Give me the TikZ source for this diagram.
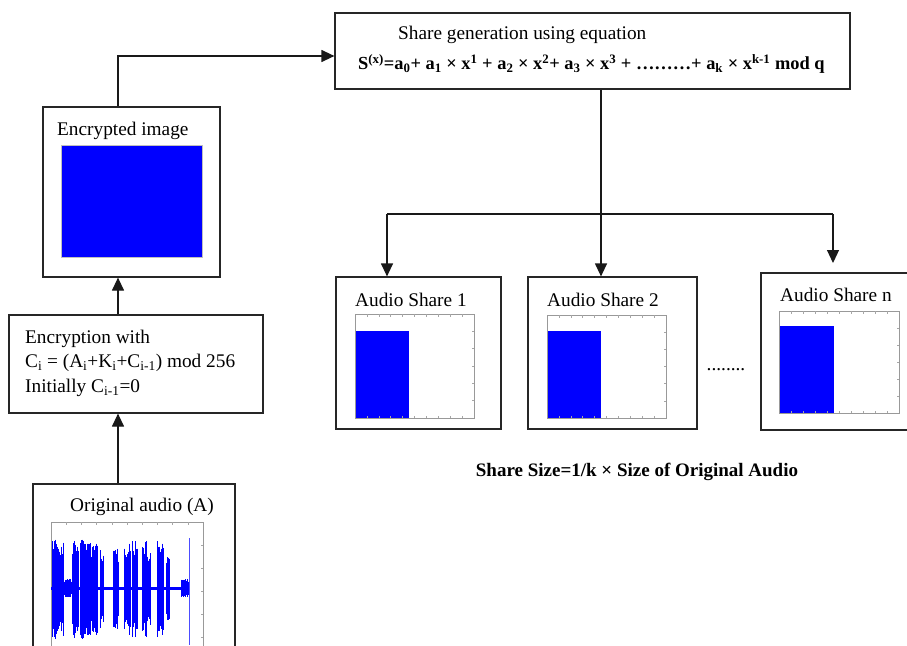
\documentclass[tikz,border=0pt]{standalone}
\usepackage{fontspec}
\setmainfont{Liberation Serif}
\usetikzlibrary{arrows.meta,calc}
\tikzset{
  box/.style={draw=black!85, line width=1.2pt, rectangle, inner sep=0pt},
  lbl/.style={inner sep=0pt, font=\fontsize{19.3}{24}\selectfont},
  bold lbl/.style={inner sep=0pt, font=\fontsize{19}{24}\selectfont\bfseries},
  conn/.style={draw=black!90, line width=1.2pt},
  arr/.style={conn, -{Triangle[length=13pt,width=12pt]}},
  framegray/.style={draw=black!40, line width=0.8pt},
  tickgray/.style={draw=black!35, line width=0.5pt},
  wave/.style={draw=blue, line width=1pt},
}
% framed plot axes with small tick marks: x1, y1, x2, y2
\newcommand\axesframe[4]{%
  \draw[framegray] (#1,#2) rectangle (#3,#4);
  \foreach \i in {1,...,9}{%
    \pgfmathsetmacro\tx{#1+(#3-#1)*\i/10}
    \draw[tickgray] (\tx,#2) -- ++(0,2.5);
    \draw[tickgray] (\tx,#4) -- ++(0,-2.5);}
  \foreach \i in {1,...,5}{%
    \pgfmathsetmacro\ty{#2+(#4-#2)*\i/6}
    \draw[tickgray] (#3,\ty) -- ++(-2.5,0);}
}
\begin{document}
\begin{tikzpicture}[x=1pt,y=-1pt]
\useasboundingbox (0,0) rectangle (907,645);
\clip (0,0) rectangle (907,645);
\fill[white] (0,0) rectangle (907,645);

% ---- boxes ----
\node[box, minimum width=515pt, minimum height=76pt] (gen) at (592.5,51) {};
\node[box, minimum width=177pt, minimum height=170pt] (encimg) at (131.5,192) {};
\node[box, minimum width=254pt, minimum height=98pt] (encr) at (136,364) {};
\node[box, minimum width=202pt, minimum height=216pt] (orig) at (134,592) {};
\node[box, minimum width=165pt, minimum height=152pt] (sh1) at (418.5,353) {};
\node[box, minimum width=169pt, minimum height=152pt] (sh2) at (612.5,353) {};
\node[box, minimum width=199pt, minimum height=157pt] (shn) at (860.5,351.5) {};

% ---- texts ----
\node[lbl, anchor=west] (gent) at (398,35) {Share generation using equation};
\node[bold lbl, anchor=west, font=\fontsize{18.4}{24}\selectfont\bfseries] (eq) at (358,64) {S\textsuperscript{(x)}=a\textsubscript{0}+ a\textsubscript{1} × x\textsuperscript{1} + a\textsubscript{2} × x\textsuperscript{2}+ a\textsubscript{3} × x\textsuperscript{3} + ………+ a\textsubscript{k} × x\textsuperscript{k-1} mod q};
\node[lbl, anchor=west] (encimgt) at (57,131) {Encrypted image};
\node[lbl, anchor=west, align=left, font=\fontsize{19.3}{24.5}\selectfont] (encrt) at (25,363)
  {Encryption with\\ C\textsubscript{i} = (A\textsubscript{i}+K\textsubscript{i}+C\textsubscript{i-1}) mod 256\\ Initially C\textsubscript{i-1}=0};
\node[lbl] (origt) at (142,507) {Original audio (A)};
\node[lbl, anchor=west] (sh1t) at (355,300) {Audio Share 1};
\node[lbl, anchor=west] (sh2t) at (547,300) {Audio Share 2};
\node[lbl, anchor=west] (shnt) at (780,295) {Audio Share n};
\node[lbl] (dots) at (726,370) {........};
\node[bold lbl] (size) at (637,472) {Share Size=1/k × Size of Original Audio};

% ---- encrypted image ----
\fill[blue] (61,145) rectangle (202,257);
\draw[black!25, line width=0.4pt] (61,145) rectangle (202,257);

% ---- share plots ----
\fill[blue] (355,331) rectangle (409,418);
\draw[blue!60, line width=0.6pt] (409,418) -- (474,418);
\axesframe{355}{314}{474}{418}
\fill[blue] (547,331) rectangle (601,418);
\draw[blue!60, line width=0.6pt] (601,418) -- (666,418);
\axesframe{547}{315}{666}{418}
\fill[blue] (779,326) rectangle (834,413);
\draw[blue!60, line width=0.6pt] (834,413) -- (899,413);
\axesframe{779}{311}{899}{413}

% ---- audio waveform ----
\axesframe{51}{522}{203}{660}
\draw[blue, line width=3pt] (51,588) -- (189,588);
\pgfmathsetseed{7}
\foreach \xa/\xb/\h in {52/63/49, 64/71/9, 72/78/48, 80/86/49, 87/97/46, 100/103/38,
  113/118/42, 124/130/45, 132/137/49, 142/147/49, 148/150/38, 157/163/49, 166/169/40,
  181/188/9}{%
  \pgfmathsetmacro\xs{\xa+0.5}
  \foreach \x in {\xa,\xs,...,\xb}{%
    \pgfmathsetmacro\amp{\h*(0.6+0.4*rnd)}
    \draw[wave] (\x,588-\amp) -- (\x,588+\amp*1.05);
  }
}
\draw[blue!70, line width=0.6pt] (189.5,538) -- (189.5,645);

% ---- connectors ----
\coordinate (lx) at (118,0);
\coordinate (inY) at (0,56);
\draw[arr] (orig.north -| lx) -- (encr.south -| lx);
\draw[arr] (encr.north -| lx) -- (encimg.south -| lx);
\draw[arr] (encimg.north -| lx) |- (gen.west |- inY);

\coordinate (b1) at (387,214);
\coordinate (b2) at (601,214);
\coordinate (bn) at (833,214);
\coordinate (bnEnd) at (833,263);
\draw[conn] (gen.south -| b2) -- (b2);
\draw[conn] (b1) -- (bn);
\draw[arr] (b1) -- (sh1.north -| b1);
\draw[arr] (b2) -- (sh2.north -| b2);
\draw[arr] (bn) -- (bnEnd);
\end{tikzpicture}
\end{document}
